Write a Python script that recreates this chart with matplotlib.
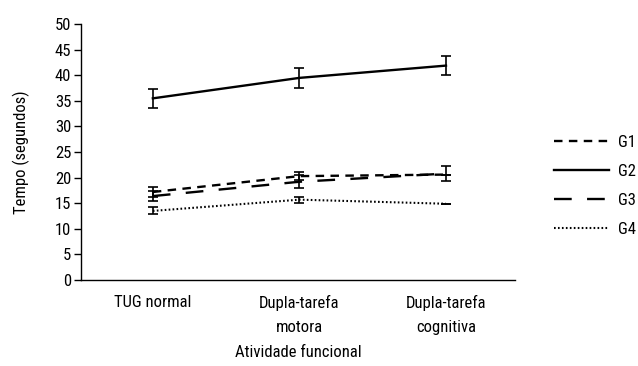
import matplotlib
matplotlib.use("Agg")
import matplotlib.pyplot as plt

categories = ["TUG normal", "Dupla-tarefa\nmotora", "Dupla-tarefa\ncognitiva"]
groups = ["G1", "G2", "G3", "G4"]
g1 = [17.2, 20.3, 20.6]
g2 = [35.5, 39.5, 41.9]
g3 = [16.4, 19.2, 20.8]
g4 = [13.5, 15.7, 14.9]
g1_err = [1.0, 0.8, 0.0]
g2_err = [1.8, 2.0, 1.9]
g3_err = [1.0, 1.3, 1.5]
g4_err = [0.7, 0.6, 0.0]
yticks = [0, 5, 10, 15, 20, 25, 30, 35, 40, 45, 50]

plt.rcParams["font.family"] = ["Roboto Condensed", "DejaVu Sans"]
FS = 12

fig = plt.figure(figsize=(6.38, 3.66), dpi=100)
ax = fig.add_axes([0.127, 0.235, 0.68, 0.699])

x = list(range(len(categories)))
styles = {
    "G1": dict(linestyle=(0, (3.6, 2.7))),
    "G2": dict(linestyle="-"),
    "G3": dict(linestyle=(0, (7.5, 6.5))),
    "G4": dict(linestyle=(0, (0.8, 1.1))),
}
data = {"G1": (g1, g1_err), "G2": (g2, g2_err), "G3": (g3, g3_err), "G4": (g4, g4_err)}
handles = []
for g in groups:
    vals, err = data[g]
    lw = 1.5 if g == "G4" else 1.7
    line, = ax.plot(x, vals, color="black", lw=lw, label=g, **styles[g])
    handles.append(line)
    ax.errorbar(x, vals, yerr=err, fmt="none", ecolor="black", elinewidth=1.2,
                capsize=3.5, capthick=1.2)

ax.set_xlim(-0.49, 2.47)
ax.set_ylim(0, 50)
ax.set_yticks(yticks)
ax.set_xticks(x)
ax.set_xticklabels(categories, fontsize=FS, linespacing=1.75)
ax.tick_params(axis="y", labelsize=FS, length=5, width=1, pad=2)
ax.tick_params(axis="x", length=0, pad=11)
for s in ["top", "right"]:
    ax.spines[s].set_visible(False)
for s in ["left", "bottom"]:
    ax.spines[s].set_linewidth(1)
ax.set_ylabel("Tempo (segundos)", fontsize=FS, labelpad=18)
ax.set_xlabel("Atividade funcional", fontsize=FS, labelpad=7)

leg = fig.legend(handles=handles, loc="center left",
                 bbox_to_anchor=(554 / 638, 1 - 186 / 366), frameon=False,
                 fontsize=FS, handlelength=3.3, handletextpad=0.55,
                 labelspacing=0.85, borderpad=0, borderaxespad=0)

fig.savefig("out.png", dpi=100)
